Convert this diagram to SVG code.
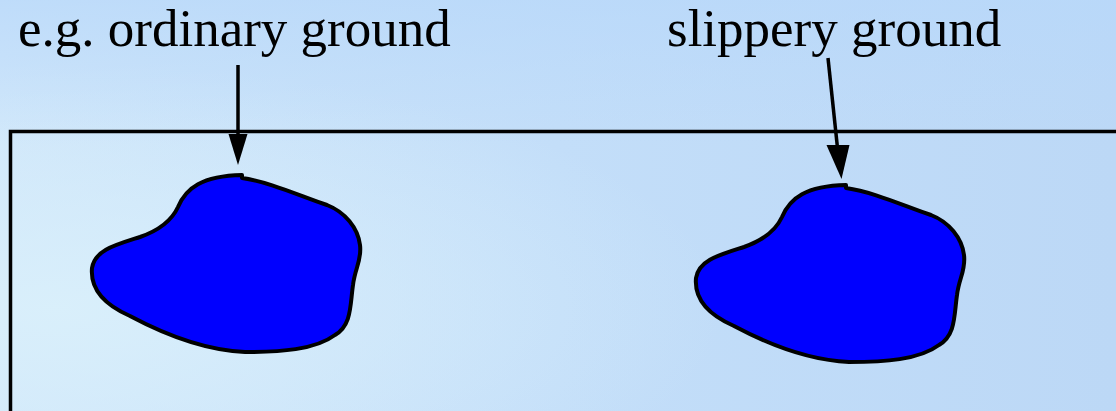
<svg xmlns="http://www.w3.org/2000/svg" width="1116" height="411" viewBox="0 0 1116 411">
<defs>
<linearGradient id="bg" x1="0" y1="0" x2="1" y2="0">
<stop offset="0" stop-color="#cfe6fa"/>
<stop offset="0.5" stop-color="#c3def9"/>
<stop offset="1" stop-color="#bcd8f6"/>
</linearGradient>
<radialGradient id="glow" cx="0.05" cy="0.75" r="0.6">
<stop offset="0" stop-color="#daf0fb" stop-opacity="0.9"/>
<stop offset="1" stop-color="#daf0fb" stop-opacity="0"/>
</radialGradient>
<linearGradient id="topband" x1="0" y1="0" x2="0" y2="1">
<stop offset="0" stop-color="#b8d8fa" stop-opacity="0.7"/>
<stop offset="0.35" stop-color="#b8d8fa" stop-opacity="0"/>
</linearGradient>
<path id="blob" d="M 242 178 C 270 182, 300 196, 327 205 C 345 212, 358 228, 360 245 C 362 260, 355 268, 353 285 C 350 305, 352 325, 335 335 C 315 350, 280 352, 245 352 C 200 350, 160 332, 130 316 C 105 305, 90 290, 92 268 C 95 250, 115 245, 140 237 C 160 230, 172 220, 178 207 C 186 188, 202 176, 242 175 Z"/>
</defs>
<style>
.lbl{font-family:"Liberation Serif","Times New Roman",serif;font-size:53px;fill:#000}
.blob{fill:#0000ff;stroke:#000;stroke-width:4;stroke-linejoin:round}
.conn{stroke:#000;stroke-width:3.5;fill:none}
</style>
<rect width="1116" height="411" fill="url(#bg)"/>
<rect width="1116" height="411" fill="url(#glow)"/>
<rect width="1116" height="411" fill="url(#topband)"/>
<g id="frame">
<path d="M 1120 131.5 L 10.5 131.5 L 10.5 415" fill="none" stroke="#000" stroke-width="3.5"/>
</g>
<g id="label-ordinary">
<text class="lbl" x="18" y="46">e.g. ordinary ground</text>
</g>
<g id="label-slippery">
<text class="lbl" x="667" y="46">slippery ground</text>
</g>
<g id="ground-ordinary">
<use href="#blob" class="blob"/>
</g>
<g id="ground-slippery">
<use href="#blob" class="blob" transform="translate(604,10)"/>
</g>
<g id="connectors">
<line class="conn" x1="238" y1="65" x2="238" y2="138"/>
<path d="M228.5,134 L247.5,134 L238,165 Z" fill="#000"/>
<line class="conn" x1="828" y1="58" x2="837.5" y2="148"/>
<path d="M826.5,145 L849.5,145 L841.5,179 Z" fill="#000"/>
</g>
</svg>
